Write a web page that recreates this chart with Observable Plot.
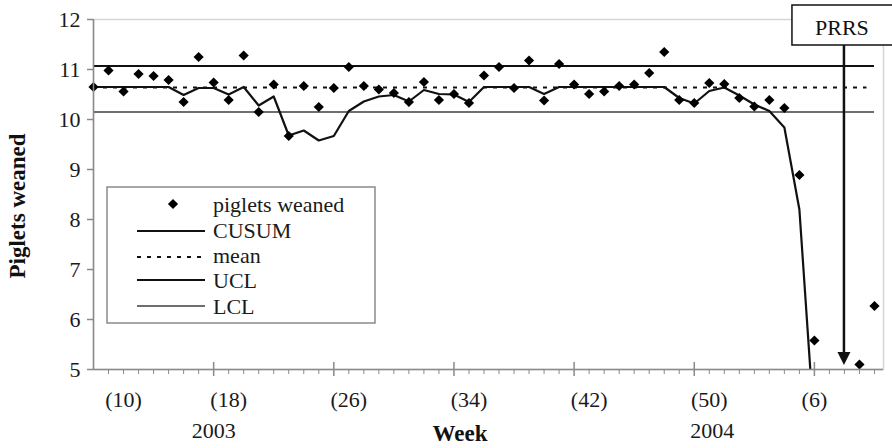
<!DOCTYPE html>
<html><head><meta charset="utf-8">
<script src="https://cdn.jsdelivr.net/npm/d3@7"></script>
<script src="https://cdn.jsdelivr.net/npm/@observablehq/plot@0.6"></script>
<style>body{margin:0;background:#fff}</style>
</head><body><div id="chart"></div>
<script>
// Piglets weaned per week (index 0 = first week shown, week 9 of 2003)
const pigletsWeaned = [10.65,10.98,10.56,10.91,10.87,10.79,10.35,11.25,10.74,10.39,
  11.28,10.15,10.70,9.67,10.67,10.25,10.63,11.05,10.67,10.60,
  10.53,10.35,10.75,10.39,10.51,10.33,10.88,11.05,10.63,11.18,
  10.38,11.11,10.70,10.51,10.56,10.67,10.70,10.93,11.35,10.39,
  10.33,10.73,10.71,10.43,10.26,10.39,10.23,8.89,5.58,null,
  null,5.10,6.27];
const cusum = [10.65,10.65,10.65,10.65,10.65,10.65,10.49,10.63,10.63,10.50,
  10.65,10.28,10.46,9.68,9.78,9.58,9.67,10.17,10.36,10.46,
  10.49,10.36,10.59,10.51,10.50,10.35,10.65,10.65,10.65,10.65,
  10.51,10.65,10.65,10.65,10.65,10.65,10.65,10.65,10.65,10.43,
  10.32,10.57,10.64,10.48,10.30,10.17,9.84,8.2,3.8];
const meanValue = 10.64;
const uclValue = 11.07;
const lclValue = 10.15;
const xTickIdx = [2, 9, 17, 25, 33, 41, 48];
const xTickLabels = ["(10)", "(18)", "(26)", "(34)", "(42)", "(50)", "(6)"];
const yearIdx = [8, 41.2];
const yearLabels = ["2003", "2004"];
const prrsIdx = 50;
const legendItems = ["piglets weaned", "CUSUM", "mean", "UCL", "LCL"];

const points = pigletsWeaned.map((v, i) => ({idx: i, v})).filter(d => d.v != null);
const cusumRows = cusum.map((v, i) => ({idx: i, v}));
const lastIdx = pigletsWeaned.length - 1;
const allIdx = d3.range(1, lastIdx + 1);
const majorTicks = allIdx.filter(i => i % 8 === 0);
const minorTicks = allIdx.filter(i => i % 8 !== 0);

const chart = Plot.plot({
  width: 892, height: 448,
  marginLeft: 93, marginRight: 9, marginTop: 19, marginBottom: 79,
  x: {domain: [0, 52.6], label: null},
  y: {domain: [5, 12], label: null},
  style: {fontFamily: "Liberation Serif", fontSize: "22px", color: "#1a1a1a", background: "#fff"},
  marks: [
    Plot.frame({stroke: "#d6d6d6", strokeWidth: 1.5}),
    Plot.ruleY([uclValue], {x1: 0, x2: lastIdx, stroke: "#111", strokeWidth: 2}),
    Plot.ruleY([lclValue], {x1: 0, x2: lastIdx, stroke: "#6e6e6e", strokeWidth: 2}),
    Plot.ruleY([meanValue], {x1: 0, x2: lastIdx - 0.5, stroke: "#111", strokeWidth: 2.2, strokeDasharray: "4,6"}),
    Plot.line(cusumRows, {x: "idx", y: "v", stroke: "#111", strokeWidth: 2.2, clip: true}),
    Plot.dot(points, {x: "idx", y: "v", symbol: "diamond2", r: 4.6, fill: "#000"}),
    Plot.ruleX([0], {stroke: "#8a8a8a", strokeWidth: 1.5}),
    Plot.ruleY([5], {stroke: "#8a8a8a", strokeWidth: 1.5}),
    Plot.ruleX(majorTicks, {insetTop: 343, stroke: "#8a8a8a", strokeWidth: 1.5}),
    Plot.axisY({ticks: d3.range(5, 13), tickSize: 6, tickPadding: 7, tickFormat: "d", stroke: "#8a8a8a", strokeWidth: 1.5}),
    Plot.axisX({ticks: minorTicks, tickSize: 5, tickFormat: () => "", stroke: "#8a8a8a"}),
    Plot.axisX({ticks: majorTicks, tickSize: 7, tickFormat: () => "", stroke: "#8a8a8a", strokeWidth: 1.5}),
    Plot.axisX({ticks: xTickIdx, tickSize: 0, tickPadding: 22, tickFormat: d => xTickLabels[xTickIdx.indexOf(d)]}),
    Plot.axisX({ticks: yearIdx, tickSize: 0, tickPadding: 53, tickFormat: d => yearLabels[yearIdx.indexOf(d)]})
  ]
});
document.getElementById("chart").append(chart);

const svg = d3.select(chart);
const xs = chart.scale("x"), ys = chart.scale("y");

// axis titles
svg.append("text").attr("x", 460).attr("y", 441).attr("text-anchor", "middle")
  .attr("font-family", "Liberation Serif").attr("font-weight", "bold").attr("font-size", 23)
  .attr("fill", "#111").text("Week");
svg.append("text").attr("transform", "translate(17,206) rotate(-90)").attr("text-anchor", "middle")
  .attr("dominant-baseline", "central")
  .attr("font-family", "Liberation Serif").attr("font-weight", "bold").attr("font-size", 23)
  .attr("fill", "#111").text("Piglets weaned");

// legend
const lg = svg.append("g").attr("font-family", "Liberation Serif").attr("font-size", 22)
  .attr("fill", "#1a1a1a").attr("text-anchor", "start");
lg.append("rect").attr("x", 107).attr("y", 187).attr("width", 268).attr("height", 136)
  .attr("fill", "#fff").attr("stroke", "#8a8a8a").attr("stroke-width", 1.5);
const baselines = [212, 238, 263, 288, 314];
const lineYs = [204, 231, 257, 280, 306];
legendItems.forEach((t, i) => {
  lg.append("text").attr("x", 213).attr("y", baselines[i]).attr("text-anchor", "start").text(t);
});
lg.append("path").attr("transform", `translate(173,${lineYs[0]})`)
  .attr("d", d3.symbol(d3.symbolDiamond2, 66)()).attr("fill", "#000");
const lstyles = [null,
  {stroke: "#111", dash: null},
  {stroke: "#111", dash: "4,6"},
  {stroke: "#111", dash: null},
  {stroke: "#6e6e6e", dash: null}];
for (let i = 1; i < 5; i++) {
  const l = lg.append("line").attr("x1", 137).attr("x2", 205).attr("y1", lineYs[i]).attr("y2", lineYs[i])
    .attr("stroke", lstyles[i].stroke).attr("stroke-width", 2.2);
  if (lstyles[i].dash) l.attr("stroke-dasharray", lstyles[i].dash);
}

// PRRS annotation
const px = xs.apply(prrsIdx);
const tipY = ys.apply(5) - 4;
const ann = svg.append("g");
ann.append("line").attr("x1", px).attr("x2", px).attr("y1", 45).attr("y2", tipY - 11)
  .attr("stroke", "#111").attr("stroke-width", 2.5);
ann.append("path").attr("d", `M${px - 6.5},${tipY - 13}L${px + 6.5},${tipY - 13}L${px},${tipY}Z`).attr("fill", "#111");
ann.append("rect").attr("x", px - 52).attr("y", 5).attr("width", 104).attr("height", 40)
  .attr("fill", "#fff").attr("stroke", "#111").attr("stroke-width", 1.5);
ann.append("text").attr("x", px - 2).attr("y", 35).attr("text-anchor", "middle")
  .attr("font-family", "Liberation Serif").attr("font-size", 22).attr("fill", "#111").text("PRRS");
</script>
</body></html>
